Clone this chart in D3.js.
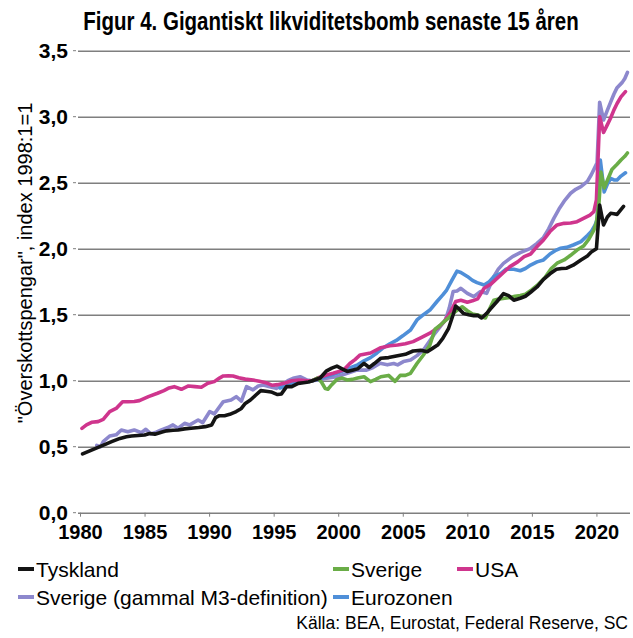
<!DOCTYPE html>
<html>
<head>
<meta charset="utf-8">
<script src="https://cdn.jsdelivr.net/npm/d3@7"></script>
<style>
  body { margin: 0; background: #fff; }
  text { font-family: "Liberation Sans", Arial, sans-serif; fill: #000; }
</style>
</head>
<body>
<script>
// values, [year, index 1998:1=1]
var tyskland = [[1980.2,0.445],[1980.8,0.47],[1981.4,0.495],[1982.0,0.52],[1982.5,0.54],[1983.1,0.563],[1983.6,0.575],[1984.0,0.581],[1984.5,0.585],[1985.0,0.589],[1985.4,0.6],[1985.8,0.595],[1986.3,0.61],[1986.7,0.62],[1987.2,0.625],[1987.6,0.627],[1988.1,0.635],[1988.6,0.64],[1989.2,0.645],[1989.7,0.652],[1990.2,0.665],[1990.5,0.72],[1990.8,0.735],[1991.2,0.735],[1991.6,0.745],[1992.1,0.766],[1992.5,0.79],[1992.8,0.828],[1993.2,0.854],[1993.6,0.89],[1994.0,0.925],[1994.4,0.92],[1994.8,0.915],[1995.3,0.895],[1995.6,0.9],[1996.0,0.955],[1996.4,0.955],[1996.9,0.98],[1997.3,0.985],[1997.7,0.99],[1998.0,1.0],[1998.6,1.02],[1999.1,1.075],[1999.5,1.095],[1999.9,1.11],[2000.3,1.09],[2000.7,1.07],[2001.1,1.08],[2001.5,1.09],[2002.0,1.132],[2002.4,1.1],[2002.8,1.13],[2003.3,1.17],[2003.9,1.175],[2004.5,1.187],[2005.2,1.2],[2005.8,1.225],[2006.4,1.23],[2006.9,1.22],[2007.3,1.245],[2007.7,1.27],[2008.1,1.32],[2008.55,1.397],[2008.9,1.5],[2009.1,1.566],[2009.4,1.54],[2009.7,1.51],[2010.1,1.5],[2010.5,1.493],[2010.8,1.495],[2011.1,1.475],[2011.5,1.51],[2011.8,1.545],[2012.3,1.6],[2012.8,1.66],[2013.2,1.645],[2013.6,1.61],[2014.1,1.625],[2014.5,1.64],[2014.9,1.67],[2015.4,1.71],[2015.9,1.768],[2016.4,1.81],[2016.9,1.844],[2017.3,1.85],[2017.7,1.852],[2018.2,1.875],[2018.8,1.915],[2019.3,1.945],[2019.6,1.975],[2020.0,2.0],[2020.25,2.33],[2020.55,2.18],[2020.85,2.24],[2021.1,2.268],[2021.35,2.265],[2021.6,2.26],[2021.85,2.29],[2022.1,2.32]];

var sverige = [[1998.0,1.0],[1998.4,1.02],[1998.7,0.99],[1999.0,0.94],[1999.2,0.935],[1999.5,0.97],[1999.9,1.01],[2000.3,1.02],[2000.7,1.005],[2001.1,1.01],[2001.5,1.02],[2002.0,1.03],[2002.5,0.993],[2002.9,1.01],[2003.3,1.03],[2003.9,1.04],[2004.4,0.995],[2004.8,1.04],[2005.2,1.04],[2005.6,1.056],[2006.1,1.13],[2006.6,1.195],[2007.1,1.27],[2007.5,1.39],[2007.9,1.42],[2008.2,1.447],[2008.6,1.48],[2008.9,1.51],[2009.3,1.54],[2009.6,1.56],[2010.0,1.53],[2010.4,1.505],[2010.8,1.498],[2011.4,1.475],[2011.7,1.54],[2012.05,1.61],[2012.5,1.62],[2012.9,1.624],[2013.3,1.63],[2013.7,1.64],[2014.1,1.645],[2014.5,1.655],[2015.0,1.69],[2015.5,1.73],[2016.0,1.78],[2016.5,1.85],[2016.95,1.89],[2017.5,1.915],[2018.0,1.95],[2018.5,1.99],[2019.0,2.02],[2019.4,2.07],[2019.8,2.14],[2020.0,2.2],[2020.2,2.35],[2020.35,2.58],[2020.6,2.46],[2020.9,2.53],[2021.2,2.6],[2021.6,2.64],[2021.9,2.672],[2022.2,2.7],[2022.4,2.725]];

var usa = [[1980.15,0.639],[1980.5,0.665],[1980.9,0.685],[1981.4,0.69],[1981.8,0.707],[1982.3,0.766],[1982.8,0.79],[1983.3,0.841],[1983.7,0.84],[1984.2,0.842],[1984.6,0.849],[1985.3,0.879],[1986.0,0.905],[1986.5,0.925],[1986.9,0.945],[1987.3,0.955],[1987.85,0.935],[1988.4,0.96],[1988.9,0.955],[1989.4,0.95],[1989.9,0.98],[1990.4,0.993],[1990.8,1.02],[1991.1,1.036],[1991.5,1.038],[1991.85,1.036],[1992.3,1.022],[1992.8,1.012],[1993.4,1.005],[1993.9,0.995],[1994.4,0.985],[1994.9,0.965],[1995.3,0.97],[1995.8,0.98],[1996.4,1.0],[1997.0,1.005],[1997.6,1.0],[1998.0,1.0],[1998.4,1.02],[1999.1,1.043],[1999.6,1.056],[2000.4,1.08],[2000.9,1.13],[2001.3,1.16],[2001.7,1.195],[2002.5,1.21],[2003.3,1.25],[2004.0,1.265],[2004.6,1.27],[2005.2,1.28],[2005.8,1.296],[2006.5,1.33],[2007.1,1.36],[2007.7,1.4],[2008.2,1.447],[2008.7,1.52],[2009.1,1.6],[2009.5,1.61],[2010.0,1.595],[2010.4,1.605],[2010.8,1.62],[2011.3,1.7],[2011.8,1.73],[2012.3,1.775],[2012.8,1.82],[2013.3,1.864],[2013.9,1.9],[2014.4,1.94],[2014.9,1.96],[2015.4,2.016],[2015.9,2.066],[2016.4,2.13],[2016.95,2.18],[2017.5,2.192],[2018.0,2.195],[2018.5,2.205],[2019.0,2.23],[2019.5,2.255],[2019.8,2.28],[2020.0,2.37],[2020.25,3.0],[2020.55,2.88],[2020.85,2.94],[2021.1,2.99],[2021.35,3.05],[2021.6,3.1],[2021.9,3.15],[2022.25,3.19]];

var sverigeGammal = [[1981.3,0.51],[1981.6,0.5],[1981.8,0.538],[1982.3,0.581],[1982.8,0.59],[1983.2,0.627],[1983.7,0.614],[1984.2,0.627],[1984.75,0.606],[1985.1,0.632],[1985.5,0.596],[1985.9,0.61],[1986.3,0.627],[1986.8,0.645],[1987.2,0.665],[1987.6,0.64],[1988.1,0.677],[1988.5,0.665],[1989.15,0.702],[1989.5,0.682],[1990.05,0.766],[1990.4,0.748],[1991.1,0.841],[1991.7,0.854],[1992.1,0.879],[1992.5,0.845],[1992.9,0.955],[1993.4,0.93],[1993.8,0.96],[1994.2,0.968],[1994.7,0.955],[1995.2,0.942],[1995.7,0.97],[1996.1,1.0],[1996.5,1.018],[1997.05,1.03],[1997.6,1.005],[1998.0,1.0],[1998.4,1.005],[1999.1,1.018],[1999.9,1.03],[2000.7,1.056],[2001.45,1.08],[2002.2,1.08],[2002.7,1.1],[2003.25,1.132],[2003.8,1.12],[2004.3,1.13],[2004.6,1.12],[2005.05,1.145],[2005.6,1.157],[2006.1,1.19],[2006.6,1.233],[2007.0,1.29],[2007.4,1.346],[2007.9,1.41],[2008.3,1.46],[2008.6,1.55],[2008.9,1.675],[2009.2,1.68],[2009.5,1.7],[2010.0,1.662],[2010.5,1.637],[2011.0,1.675],[2011.5,1.662],[2012.05,1.788],[2012.4,1.845],[2012.8,1.889],[2013.5,1.94],[2014.1,1.97],[2014.9,2.003],[2015.4,2.04],[2015.9,2.085],[2016.3,2.15],[2016.7,2.23],[2017.1,2.3],[2017.5,2.36],[2018.0,2.42],[2018.4,2.45],[2018.8,2.47],[2019.3,2.51],[2019.6,2.56],[2019.9,2.62],[2020.05,2.65],[2020.25,3.11],[2020.55,2.975],[2020.85,3.05],[2021.1,3.11],[2021.35,3.17],[2021.6,3.22],[2022.0,3.26],[2022.2,3.29],[2022.4,3.335]];

var eurozonen = [[1995.5,0.945],[1996.0,0.965],[1996.5,0.98],[1997.0,0.99],[1997.5,0.995],[1998.0,1.0],[1998.5,1.015],[1999.0,1.03],[1999.5,1.045],[2000.0,1.06],[2000.5,1.08],[2001.0,1.1],[2001.5,1.12],[2002.0,1.15],[2002.5,1.175],[2003.0,1.21],[2003.5,1.25],[2004.0,1.28],[2004.5,1.305],[2005.0,1.34],[2005.6,1.384],[2006.1,1.46],[2006.6,1.5],[2007.1,1.535],[2007.65,1.6],[2008.1,1.65],[2008.4,1.687],[2008.8,1.76],[2009.2,1.83],[2009.5,1.82],[2010.0,1.79],[2010.4,1.76],[2010.75,1.743],[2011.3,1.725],[2011.7,1.75],[2012.05,1.788],[2012.6,1.813],[2013.0,1.845],[2013.6,1.844],[2014.1,1.833],[2014.5,1.85],[2014.9,1.876],[2015.4,1.9],[2015.9,1.915],[2016.4,1.96],[2016.8,1.985],[2017.2,2.003],[2017.7,2.01],[2018.2,2.028],[2018.8,2.054],[2019.3,2.1],[2019.6,2.13],[2019.9,2.18],[2020.05,2.22],[2020.3,2.672],[2020.6,2.43],[2020.85,2.49],[2021.1,2.533],[2021.4,2.52],[2021.6,2.52],[2021.9,2.55],[2022.25,2.575]];

var xTicks = [1980, 1985, 1990, 1995, 2000, 2005, 2010, 2015, 2020];
var yTicks = [0, 0.5, 1, 1.5, 2, 2.5, 3, 3.5];
var yTickLabels = ["0,0", "0,5", "1,0", "1,5", "2,0", "2,5", "3,0", "3,5"];

// drawing order (last on top) and legend placement
var series = [
  {name: "Sverige (gammal M3-definition)", data: sverigeGammal, color: "#8d88cd", lx: 18, ly: 597},
  {name: "Eurozonen", data: eurozonen, color: "#4f8fd8", lx: 333, ly: 597},
  {name: "USA", data: usa, color: "#cf358d", lx: 457, ly: 569},
  {name: "Sverige", data: sverige, color: "#6aad47", lx: 333, ly: 569},
  {name: "Tyskland", data: tyskland, color: "#141414", lx: 18, ly: 569}
];

var svgWidth = 633;
var svgHeight = 638;

var svg = d3.select("body")
  .append("svg")
  .attr("width", svgWidth)
  .attr("height", svgHeight);

var xScale = d3.scaleLinear()
  .domain([1980, 2022.6])
  .range([80, 630]);

var yScale = d3.scaleLinear()
  .domain([0, 3.5])
  .range([512.7, 50.7]);

// gridlines + y labels
var leftAxis = d3.axisLeft(yScale)
  .tickValues(yTicks)
  .tickSize(-(630 - 78))
  .tickPadding(10)
  .tickFormat(function(d, i) { return yTickLabels[i]; });

var yAxisG = svg.append("g")
  .attr("transform", "translate(78,0)")
  .call(leftAxis);
yAxisG.select(".domain").remove();
yAxisG.selectAll("line").attr("stroke", "#7f7f7f").attr("stroke-width", 1.6);
yAxisG.selectAll("text")
  .style("font-size", "21px")
  .style("font-weight", "bold");

// small outer tick dashes
svg.append("g").selectAll("line")
  .data(yTicks)
  .enter()
  .append("line")
  .attr("x1", 73).attr("x2", 76)
  .attr("y1", d => yScale(d)).attr("y2", d => yScale(d))
  .attr("stroke", "#7f7f7f")
  .attr("stroke-width", 1);

// x axis
var bottomAxis = d3.axisBottom(xScale)
  .tickValues(xTicks)
  .tickSize(4)
  .tickPadding(8)
  .tickFormat(d3.format("d"));

var xAxisG = svg.append("g")
  .attr("transform", "translate(0,512.7)")
  .call(bottomAxis);
xAxisG.select(".domain").remove();
xAxisG.selectAll("line").attr("stroke", "#7f7f7f");
xAxisG.selectAll("text")
  .style("font-size", "20px")
  .style("font-weight", "bold");

// lines
var line = d3.line()
  .x(d => xScale(d[0]))
  .y(d => yScale(d[1]));

svg.append("g").selectAll("path")
  .data(series)
  .enter()
  .append("path")
  .attr("d", d => line(d.data))
  .attr("fill", "none")
  .attr("stroke", d => d.color)
  .attr("stroke-width", 3.6)
  .attr("stroke-linejoin", "round")
  .attr("stroke-linecap", "round");

// title
svg.append("text")
  .attr("transform", "translate(331,30) scale(0.82,1)")
  .attr("text-anchor", "middle")
  .style("font-size", "25px")
  .style("font-weight", "bold")
  .text("Figur 4. Gigantiskt likviditetsbomb senaste 15 åren");

// y axis title
svg.append("text")
  .attr("transform", "translate(32,263) rotate(-90)")
  .attr("text-anchor", "middle")
  .style("font-size", "20px")
  .text("\"Överskottspengar\", index 1998:1=1");

// legend
var legend = svg.append("g").selectAll("g")
  .data(series)
  .enter()
  .append("g")
  .attr("transform", d => `translate(${d.lx},${d.ly})`);

legend.append("line")
  .attr("x1", 0).attr("x2", 16)
  .attr("y1", 0).attr("y2", 0)
  .attr("stroke", d => d.color)
  .attr("stroke-width", 4);

legend.append("text")
  .attr("x", 18)
  .attr("y", 7.5)
  .style("font-size", "21px")
  .text(d => d.name);

// source
svg.append("text")
  .attr("x", 628)
  .attr("y", 629)
  .attr("text-anchor", "end")
  .style("font-size", "17.5px")
  .text("Källa: BEA, Eurostat, Federal Reserve, SC");
</script>
</body>
</html>
